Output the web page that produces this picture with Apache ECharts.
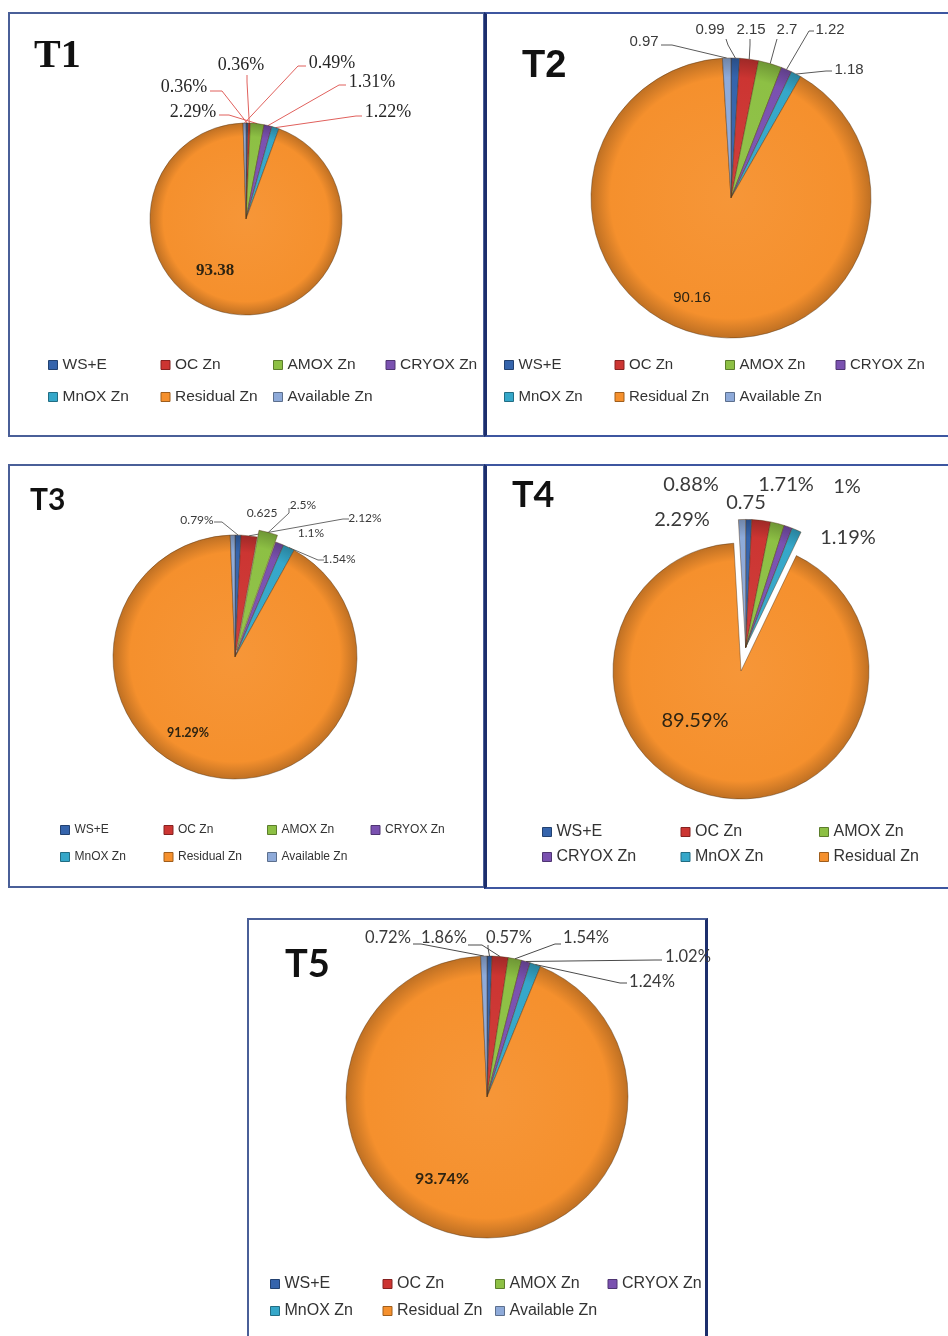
<!DOCTYPE html>
<html>
<head>
<meta charset="utf-8">
<title>Zn fractions T1–T5</title>
<script src="https://cdn.jsdelivr.net/npm/echarts/dist/echarts.min.js"></script>
<style>
  html, body { margin: 0; padding: 0; background: #fff; overflow: hidden; }
  #page { position: relative; width: 948px; height: 1336px; overflow: hidden; background: #fff; }
  .chart { position: absolute; }
  .frame { position: absolute; box-sizing: border-box; pointer-events: none; }
</style>
</head>
<body>
<div id="page"></div>
<script>
// Zinc fractions, order of the slices (clockwise from 12 o'clock)
const componentNames = ['WS+E', 'OC Zn', 'AMOX Zn', 'CRYOX Zn', 'MnOX Zn', 'Residual Zn', 'Available Zn'];

// values per treatment, same order as componentNames
const t1Values = [0.36, 0.36, 2.29, 1.31, 1.22, 93.38, 0.49];
const t2Values = [0.99, 2.15, 2.7, 1.22, 1.18, 90.16, 0.97];
const t3Values = [0.79, 2.12, 2.5, 1.1, 1.54, 91.29, 0.625];
const t4Values = [0.75, 2.29, 1.71, 1, 1.19, 89.59, 0.88];
const t5Values = [0.57, 1.86, 1.54, 1.02, 1.24, 93.74, 0.72];

const panelTitles = ['T1', 'T2', 'T3', 'T4', 'T5'];

const sliceColors = ['#3564AC', '#CC3532', '#8DC044', '#7A51B0', '#35A7C9', '#F5902D', '#8EAAD9'];

function mix(a, b, t) {
  const pa = parseInt(a.slice(1), 16), pb = parseInt(b.slice(1), 16);
  const ch = (p, s) => (p >> s) & 255;
  const c = [16, 8, 0].map(s => Math.round(ch(pa, s) + (ch(pb, s) - ch(pa, s)) * t));
  return 'rgb(' + c.join(',') + ')';
}

// layout of each panel, in page pixels
const panels = [
  {
    values: t1Values, title: panelTitles[0],
    box: [8, 12, 477, 425],
    titleAt: [34, 57], titleFont: 'bold 40px "Liberation Serif"',
    center: [246, 219], radius: 96,
    exploded: [], explodeBy: 0,
    labelStyle: { fontFamily: 'Liberation Serif', fontSize: 18, color: '#262626' },
    residualStyle: { fontFamily: 'Liberation Serif', fontSize: 17, fontWeight: 'bold', color: '#2e2412' },
    suffix: ['%', '%', '%', '%', '%', '', '%'],
    lineColor: '#E0605C',
    labels: [
      { at: [184, 87], line: [[210, 91], [222, 91]] },
      { at: [241, 65], line: [[247, 75], [247, 82]] },
      { at: [193, 112], line: [[219, 115], [229, 115]] },
      { at: [372, 82], line: [[346, 85], [339, 85]] },
      { at: [388, 112], line: [[362, 116], [356, 116]] },
      { at: [215, 271] },
      { at: [332, 63], line: [[306, 66], [298, 66]] }
    ],
    legend: { left: 48, rows: [365, 397], pitch: 112, fontSize: 15.5, groups: [[0, 1, 2, 3], [4, 5, 6]] }
  },
  {
    values: t2Values, title: panelTitles[1],
    box: [484, 12, 470, 425],
    titleAt: [522, 67], titleFont: 'bold 38px "Liberation Sans"',
    center: [731, 198], radius: 140,
    exploded: [], explodeBy: 0,
    labelStyle: { fontFamily: 'Liberation Sans', fontSize: 15, color: '#3a3a3a' },
    residualStyle: { fontFamily: 'Liberation Sans', fontSize: 15, color: '#2e2412' },
    suffix: ['', '', '', '', '', '', ''],
    lineColor: '#5a5a5a',
    labels: [
      { at: [710, 30], line: [[726, 39], [728, 45]] },
      { at: [751, 30], line: [[750, 39], [750, 45]] },
      { at: [787, 30], line: [[777, 39], [775, 46]] },
      { at: [830, 30], line: [[814, 31], [809, 31]] },
      { at: [849, 70], line: [[832, 71], [826, 71]] },
      { at: [692, 298] },
      { at: [644, 42], line: [[661, 45], [672, 45]] }
    ],
    legend: { left: 504, rows: [365, 397], pitch: 110, fontSize: 15, groups: [[0, 1, 2, 3], [4, 5, 6]] }
  },
  {
    values: t3Values, title: panelTitles[2],
    box: [8, 464, 477, 424],
    titleAt: [30, 500], titleFont: 'bold 30px Lato',
    center: [235, 657], radius: 122,
    exploded: [2], explodeBy: 7,
    labelStyle: { fontFamily: 'Lato', fontSize: 12, color: '#3a3a3a' },
    residualStyle: { fontFamily: 'Lato', fontSize: 12.5, fontWeight: 'bold', color: '#2e2412' },
    suffix: ['%', '%', '%', '%', '%', '%', ''],
    lineColor: '#6a6a6a',
    labels: [
      { at: [197, 520], line: [[214, 522], [222, 522]] },
      { at: [365, 518], line: [[349, 519], [343, 519]] },
      { at: [303, 505], line: [[289, 508], [289, 513]] },
      { at: [311, 533] },
      { at: [339, 559], line: [[324, 560], [318, 560]] },
      { at: [188, 733] },
      { at: [262, 513] }
    ],
    legend: { left: 60, rows: [830, 857], pitch: 103, fontSize: 12, groups: [[0, 1, 2, 3], [4, 5, 6]] }
  },
  {
    values: t4Values, title: panelTitles[3],
    box: [484, 464, 470, 425],
    titleAt: [512, 495], titleFont: 'bold 36px Lato',
    center: [741, 671], radius: 128,
    exploded: [0, 1, 2, 3, 4, 6], explodeBy: 24,
    labelStyle: { fontFamily: 'Lato', fontSize: 20, color: '#3a3a3a' },
    residualStyle: { fontFamily: 'Lato', fontSize: 20, color: '#2e2412' },
    suffix: ['', '%', '%', '%', '%', '%', '%'],
    lineColor: '#6a6a6a',
    labels: [
      { at: [746, 503] },
      { at: [682, 520] },
      { at: [786, 485] },
      { at: [847, 487] },
      { at: [848, 538] },
      { at: [695, 721] },
      { at: [691, 485] }
    ],
    legend: { left: 542, rows: [832, 857], pitch: 138, fontSize: 16, groups: [[0, 1, 2], [3, 4, 5]] }
  },
  {
    values: t5Values, title: panelTitles[4],
    box: [247, 918, 475, 430],
    titleAt: [285, 965], titleFont: 'bold 38px Lato',
    center: [487, 1097], radius: 141,
    exploded: [], explodeBy: 0,
    labelStyle: { fontFamily: 'Lato', fontSize: 16.5, color: '#3a3a3a' },
    residualStyle: { fontFamily: 'Lato', fontSize: 16, fontWeight: 'bold', color: '#2e2412' },
    suffix: ['%', '%', '%', '%', '%', '%', '%'],
    lineColor: '#4a4a4a',
    labels: [
      { at: [509, 938], line: [[488, 945], [488, 948]] },
      { at: [444, 938], line: [[468, 945], [482, 945]] },
      { at: [586, 938], line: [[561, 944], [555, 944]] },
      { at: [688, 957], line: [[662, 960], [655, 960]] },
      { at: [652, 982], line: [[627, 983], [620, 983]] },
      { at: [442, 1179] },
      { at: [388, 938], line: [[413, 944], [421, 944]] }
    ],
    legend: { left: 270, rows: [1284, 1311], pitch: 112, fontSize: 16, groups: [[0, 1, 2, 3], [4, 5, 6]] }
  }
];

// panel outlines (drawn underneath the charts so labels may cross them)
const frames = [
  { box: [8, 12, 477, 425], css: 'border:2px solid #4a5f98;' },
  { box: [484, 12, 480, 425], css: 'border:2px solid #3d56a0;border-left:3px solid #1c2e6c;' },
  { box: [8, 464, 477, 424], css: 'border:2px solid #4a5f98;' },
  { box: [484, 464, 480, 425], css: 'border:2px solid #3d56a0;border-left:3px solid #1c2e6c;' },
  { box: [247, 918, 461, 440], css: 'border:2px solid #4a5f98;border-right:3px solid #1c2e6c;' }
];

const page = document.getElementById('page');

frames.forEach(f => {
  const d = document.createElement('div');
  d.className = 'frame';
  d.style.cssText = 'left:' + f.box[0] + 'px;top:' + f.box[1] + 'px;width:' + f.box[2] + 'px;height:' + f.box[3] + 'px;' + f.css;
  page.appendChild(d);
});

// direction (screen coords) of the middle of the pulled-out slices, scaled to dist
function explodeVector(values, idx, dist) {
  if (!idx.length) return [0, 0];
  const total = values.reduce((a, b) => a + b, 0);
  let acc = 0, sx = 0, sy = 0;
  values.forEach((v, i) => {
    const mid = (acc + v / 2) / total * 2 * Math.PI; // clockwise from 12 o'clock
    if (idx.indexOf(i) >= 0) { sx += Math.sin(mid) * v; sy += -Math.cos(mid) * v; }
    acc += v;
  });
  const n = Math.hypot(sx, sy) || 1;
  return [sx / n * dist, sy / n * dist];
}

function buildOption(p) {
  const [bx, by] = p.box;
  const L = x => x - bx;
  const T = y => y - by;
  const cx = L(p.center[0]);
  const cy = T(p.center[1]);
  const edge = 'rgba(80,50,20,0.55)';
  const off = explodeVector(p.values, p.exploded, p.explodeBy);

  const fill = (c, ox, oy) => ({
    type: 'radial', x: cx + ox, y: cy + oy, r: p.radius, global: true,
    colorStops: [
      { offset: 0, color: mix(c, '#ffffff', 0.05) },
      { offset: 0.86, color: c },
      { offset: 1, color: mix(c, '#000000', 0.22) }
    ]
  });

  const hidden = { color: 'rgba(0,0,0,0)', borderColor: 'rgba(0,0,0,0)', borderWidth: 0 };

  const makeData = (visible, ox, oy) => p.values.map((v, i) => {
    const show = visible(i);
    return {
      name: componentNames[i],
      value: v,
      itemStyle: show ? { color: fill(sliceColors[i], ox, oy) } : hidden,
      label: show
        ? (i === 5 ? Object.assign({ position: 'inside' }, p.residualStyle) : {})
        : { show: false },
      labelLine: { show: show && !!p.labels[i].line }
    };
  });

  const makeSeries = (data, ox, oy) => ({
    type: 'pie',
    silent: true,
    center: [cx + ox, cy + oy],
    radius: [0, p.radius],
    startAngle: 90,
    clockwise: true,
    avoidLabelOverlap: false,
    selectedMode: false,
    itemStyle: { borderColor: edge, borderWidth: 0.8 },
    emphasis: { disabled: true },
    label: Object.assign({
      show: true, position: 'outside', overflow: 'none',
      formatter: params => params.value + p.suffix[params.dataIndex]
    }, p.labelStyle),
    labelLine: { show: true, length: 10, length2: 10, lineStyle: { color: p.lineColor, width: 1 } },
    labelLayout: params => {
      const spec = p.labels[params.dataIndex];
      const out = { x: L(spec.at[0]), y: T(spec.at[1]), align: 'center', verticalAlign: 'middle' };
      if (spec.line && params.labelLinePoints) {
        out.labelLinePoints = [
          params.labelLinePoints[0],
          [L(spec.line[1][0]), T(spec.line[1][1])],
          [L(spec.line[0][0]), T(spec.line[0][1])]
        ];
      }
      return out;
    },
    data: data
  });

  const series = [makeSeries(makeData(i => p.exploded.indexOf(i) < 0, 0, 0), 0, 0)];
  if (p.exploded.length) {
    series.push(makeSeries(makeData(i => p.exploded.indexOf(i) >= 0, off[0], off[1]), off[0], off[1]));
  }

  const lh = Math.round(p.legend.fontSize + 2);
  const legends = p.legend.groups.map((g, r) => ({
    data: g.map(i => ({
      name: componentNames[i],
      itemStyle: { color: sliceColors[i], borderColor: mix(sliceColors[i], '#000000', 0.35), borderWidth: 1 }
    })),
    left: L(p.legend.left),
    top: T(p.legend.rows[r]) - lh / 2,
    width: g.length * p.legend.pitch + 60,
    orient: 'horizontal',
    icon: 'rect',
    itemWidth: 9,
    itemHeight: 9,
    itemGap: 4,
    padding: 0,
    selectedMode: false,
    textStyle: {
      fontFamily: 'Liberation Sans', fontSize: p.legend.fontSize, color: '#333',
      width: p.legend.pitch - 9 - 5 - 4, lineHeight: lh, overflow: 'none'
    }
  }));

  return {
    animation: false,
    backgroundColor: 'transparent',
    graphic: [{
      type: 'text',
      x: L(p.titleAt[0]), y: T(p.titleAt[1]),
      style: {
        text: p.title, font: p.titleFont, fill: '#111',
        align: 'left', verticalAlign: 'middle', textAlign: 'left', textVerticalAlign: 'middle'
      }
    }],
    legend: legends,
    series: series
  };
}

panels.forEach(p => {
  const div = document.createElement('div');
  div.className = 'chart';
  div.style.left = p.box[0] + 'px';
  div.style.top = p.box[1] + 'px';
  div.style.width = p.box[2] + 'px';
  div.style.height = p.box[3] + 'px';
  page.appendChild(div);
  const chart = echarts.init(div, null, { renderer: 'canvas' });
  chart.setOption(buildOption(p));
});
</script>
</body>
</html>
